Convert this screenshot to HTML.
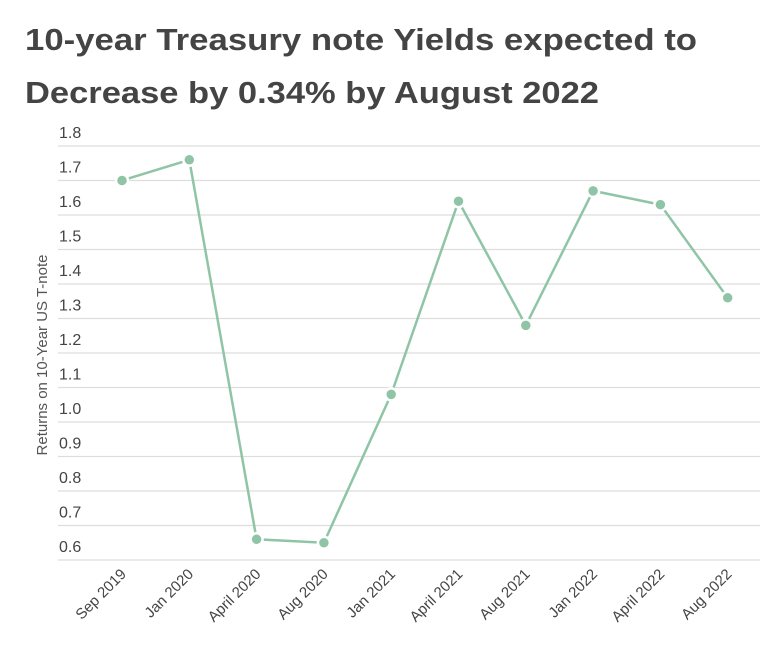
<!DOCTYPE html>
<html><head><meta charset="utf-8"><style>
body{margin:0;background:#fff;}
svg{display:block;font-family:"Liberation Sans",sans-serif;}
</style></head><body>
<svg id="chart" width="783" height="655">
<text x="25" y="50" font-size="31" font-weight="bold" fill="#444" textLength="672" lengthAdjust="spacingAndGlyphs">10-year Treasury note Yields expected to</text>
<text x="25" y="103" font-size="31" font-weight="bold" fill="#444" textLength="574" lengthAdjust="spacingAndGlyphs">Decrease by 0.34% by August 2022</text>
<text transform="translate(47,355) rotate(-90)" text-anchor="middle" font-size="15" fill="#555">Returns on 10-Year US T-note</text>
<g id="grid"></g><g id="xlabels"></g><g id="series"></g>
</svg>
<script>
const categories=["Sep 2019","Jan 2020","April 2020","Aug 2020","Jan 2021","April 2021","Aug 2021","Jan 2022","April 2022","Aug 2022"];
const values=[1.70,1.76,0.66,0.65,1.08,1.64,1.28,1.67,1.63,1.36];
const yTicks=["0.6","0.7","0.8","0.9","1.0","1.1","1.2","1.3","1.4","1.5","1.6","1.7","1.8"];
const NS="http://www.w3.org/2000/svg";
const y=v=>560-(v-0.6)*345;
const x=i=>122+i*67.3;
function mk(t,a,p){const e=document.createElementNS(NS,t);for(const k in a)e.setAttribute(k,a[k]);p.appendChild(e);return e;}
const grid=document.getElementById('grid');
yTicks.forEach(t=>{const v=parseFloat(t);
 const l=mk('line',{x1:58,x2:760,y1:y(v),y2:y(v),stroke:'#ddd','stroke-width':1.3},grid);
 
 
 const tx=mk('text',{x:59,y:y(v)-8,'font-size':16,fill:'#444'},grid);tx.textContent=t;
 
 
});
const xl=document.getElementById('xlabels');
categories.forEach((c,i)=>{
 const t=mk('text',{transform:`translate(${x(i)+5},${575}) rotate(-45)`,'text-anchor':'end','font-size':15,fill:'#444'},xl);t.textContent=c;
 
 
});
const s=document.getElementById('series');
const pl=mk('polyline',{points:values.map((v,i)=>x(i)+','+y(v)).join(' '),fill:'none',stroke:'#8fc5a6','stroke-width':2.5},s);


values.forEach((v,i)=>{
 const c=mk('circle',{cx:x(i),cy:y(v),r:6,fill:'#8fc5a6',stroke:'#fff','stroke-width':2.5},s);
 
 
});
</script>
</body></html>
